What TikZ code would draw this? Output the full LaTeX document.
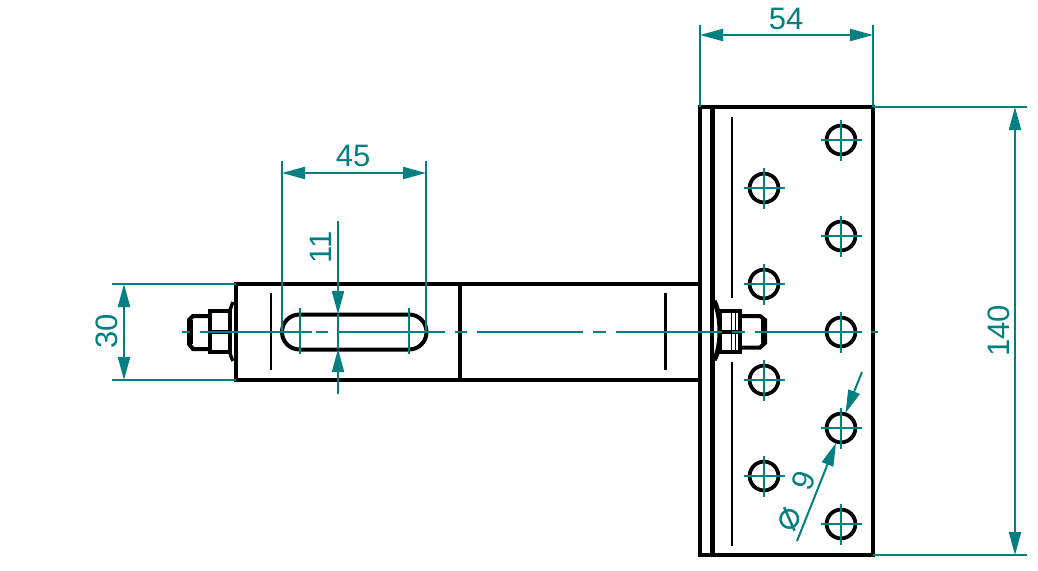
\documentclass[tikz,border=0pt]{standalone}
\usepackage{fontspec}
\setmainfont{Liberation Sans}
\newfontfamily\symfont{DejaVu Sans}
\usetikzlibrary{arrows.meta}
\definecolor{dimteal}{rgb}{0.0, 0.5, 0.5}
\tikzset{
  thick part/.style={line width=4.6pt,line join=miter},
  thin part/.style={line width=2.2pt},
  dim line/.style={dimteal,line width=2pt},
  dim arrow/.style={dim line,{Triangle[length=23pt,width=12pt]}-{Triangle[length=23pt,width=12pt]}},
  dim end/.style={dim line,-{Triangle[length=23pt,width=12pt]}},
  dim text/.style={dimteal,inner sep=0pt,font=\fontsize{31}{31}\selectfont},
}
\begin{document}
\begin{tikzpicture}[x=1pt,y=-1pt]
\useasboundingbox (0,0) rectangle (1038,570);
% bar
\draw[thick part] (700,284) -- (236,284) -- (236,380) -- (700,380);
\draw[thick part] (460,284) -- (460,380);
\draw[thin part] (271,293) -- (271,370);
\draw[thin part] (665.5,293) -- (665.5,370);
\draw[line width=4pt,rounded corners=17.4pt] (282,314.5) rectangle (426.5,349.5);
% plate
\draw[line width=4.8pt] (700,107) rectangle (873,555);
\draw[line width=5.4pt] (712.5,107) -- (712.5,555);
\draw[thin part] (732,117) -- (732,298);
\draw[thin part] (732,362) -- (732,546);
% left bolt
\draw[line width=3.4pt,fill=white] (233,302) .. controls (226,316) and (226,348) .. (233,361);
\draw[line width=4pt,fill=white] (209.5,311) rectangle (230,352);
\draw[line width=3.4pt] (209.5,332) -- (230,332);
\draw[line width=4pt] (208,316) -- (193,316) -- (189,320) -- (189,344) -- (193,349) -- (208,349);
\draw[line width=6pt] (190,320) -- (190,344);
% right bolt
\draw[line width=5pt,fill=white] (714,301) .. controls (722,316) and (722,347) .. (714,360);
\draw[line width=4pt,fill=white] (719.5,311) rectangle (739.5,352);
\draw[line width=3.4pt] (719.5,332) -- (739.5,332);
\draw[line width=1.6pt] (731.5,311) -- (731.5,352);
\draw[line width=1.6pt] (735.5,311) -- (735.5,352);
\draw[line width=4pt] (740,316) -- (760,316) -- (765,320) -- (765,343) -- (760,347.5) -- (740,347.5);
\draw[line width=5pt] (763,320) -- (763,343);
% holes
\foreach \hx/\hy in {841/140,841/236,841/332,841/428,841/524,764/188,764/284,764/380,764/476} {
  \draw[line width=3.8pt] (\hx,\hy) circle[radius=14.4pt];
  \draw[dim line] (\hx-20.5,\hy) -- (\hx+20.5,\hy);
  \draw[dim line] (\hx,\hy-20.5) -- (\hx,\hy+20.5);
}
% centre line
\foreach \ca/\cb in {182/190,200/312,316/328,338/445,455/467,477/583,593/606,616/722,732/745,755/862,871/878}
  \draw[dim line] (\ca,332) -- (\cb,332);
\draw[dim line] (300,308) -- (300,354);
\draw[dim line] (409,308) -- (409,354);
% 54
\coordinate (d54a) at (700,35);
\coordinate (d54b) at (873,35);
\draw[dim line] (700,25) -- (700,107);
\draw[dim line] (873,25) -- (873,107);
\draw[dim arrow] (d54a) -- (d54b);
\node[dim text] (t54) at (786,19) {54};
% 140
\coordinate (d140a) at (1015,107);
\coordinate (d140b) at (1015,555);
\draw[dim line] (873,107) -- (1027,107);
\draw[dim line] (873,555) -- (1027,555);
\draw[dim arrow] (d140a) -- (d140b);
\node[dim text,rotate=90] (t140) at (999,331) {140};
% 45
\coordinate (d45a) at (282,173);
\coordinate (d45b) at (426,173);
\draw[dim line] (282,161) -- (282,332);
\draw[dim line] (426,161) -- (426,332);
\draw[dim arrow] (d45a) -- (d45b);
\node[dim text] (t45) at (353,156) {45};
% 30
\coordinate (d30a) at (124,284);
\coordinate (d30b) at (124,380);
\draw[dim line] (112,284) -- (236,284);
\draw[dim line] (112,380) -- (236,380);
\draw[dim arrow] (d30a) -- (d30b);
\node[dim text,rotate=90] (t30) at (107,331) {30};
% 11
\coordinate (d11a) at (338,221);
\coordinate (d11b) at (338,314);
\coordinate (d11c) at (338,394);
\coordinate (d11d) at (338,349);
\draw[dim end] (d11a) -- (d11b);
\draw[dim end] (d11c) -- (d11d);
\draw[dim line] (d11b) -- (d11d);
\node[dim text,rotate=90] (t11) at (321,247) {11};
% diameter
\coordinate (d9a) at (862,372);
\coordinate (d9b) at (845.5,413);
\coordinate (d9c) at (797,541);
\coordinate (d9d) at (836,443);
\draw[dim end] (d9a) -- (d9b);
\draw[dim end] (d9c) -- (d9d);
\node[dim text,rotate=69] (t9) at (796,501) {{\symfont\fontsize{38}{38}\selectfont ⌀}\,\,\,\,9};
\end{tikzpicture}
\end{document}
